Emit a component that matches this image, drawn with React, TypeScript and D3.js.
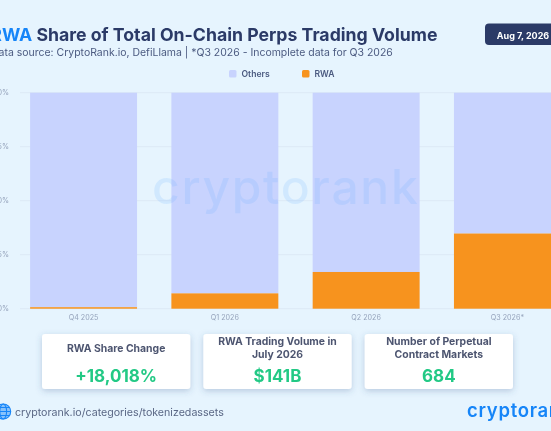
import * as d3 from "d3";

const categories = ["Q4 2025", "Q1 2026", "Q2 2026", "Q3 2026*"];
const rwaShare = [0.7, 7.1, 17, 34.8];
const othersShare = [99.3, 92.9, 83, 65.2];
const yTicks = [0, 25, 50, 75, 100];
const legendItems = ["Others", "RWA"];
const cardTitles = [
  ["RWA Share Change"],
  ["RWA Trading Volume in", "July 2026"],
  ["Number of Perpetual", "Contract Markets"],
];
const cardValues = ["+18,018%", "$141B", "684"];

const WIDTH = 551;
const HEIGHT = 431;
const OTHERS_COLOR = "#c8d3fe";
const RWA_COLOR = "#f7931e";
const NAVY = "#2b3a67";
const FONT = "Inter, 'Noto Sans', sans-serif";

const x = d3
  .scaleBand<string>()
  .domain(categories)
  .range([13, 578])
  .paddingInner(0.243)
  .paddingOuter(0.121);
const y = d3.scaleLinear().domain([0, 100]).range([308.7, 92.7]);

const stacked = d3
  .stack<string>()
  .keys(legendItems)
  .value((cat, key) => {
    const i = categories.indexOf(cat);
    return key === "Others" ? othersShare[i] : rwaShare[i];
  })
  .order(d3.stackOrderReverse)(categories);

const colorOf = d3
  .scaleOrdinal<string>()
  .domain(legendItems)
  .range([OTHERS_COLOR, RWA_COLOR]);

// x positions of the three stat cards
const cardX = d3.scaleBand<number>().domain([0, 1, 2]).range([42, 513]).paddingInner(0.081);

export default function App() {
  return (
    <svg
      width={WIDTH}
      height={HEIGHT}
      viewBox={`0 0 ${WIDTH} ${HEIGHT}`}
      style={{ position: "fixed", left: 0, top: 0, fontFamily: FONT, filter: "blur(0.4px)" }}
    >
      <defs>
        <filter id="cardShadow" x="-10%" y="-20%" width="120%" height="150%">
          <feDropShadow dx="0" dy="2" stdDeviation="3" floodColor="#3c5a8c" floodOpacity="0.28" />
        </filter>
      </defs>
      <rect width={WIDTH} height={HEIGHT} fill="#e6f4fe" />

      <text x={-9.7} y={40.5} fontSize={17.7} fontWeight={700} fill={NAVY}>
        <tspan fill="#1685f8">RWA</tspan> Share of Total On-Chain Perps Trading Volume
      </text>
      <text x={-9} y={55.5} fontSize={10.47} fill="#4b5a80">
        Data source: CryptoRank.io, DefiLlama | *Q3 2026 - Incomplete data for Q3 2026
      </text>

      <rect x={485} y={23.5} width={90} height={21.5} rx={4} fill={NAVY} />
      <text x={523} y={38.5} textAnchor="middle" fontSize={9} fontWeight={700} fill="#ffffff">
        Aug 7, 2026
      </text>

      {legendItems.map((name, i) => (
        <g key={name} transform={`translate(${i === 0 ? 229 : 302},70)`}>
          <rect width={7.5} height={7.5} rx={1.5} fill={colorOf(name)} />
          <text x={12.5} y={7.2} fontSize={8.6} fontWeight={600} fill="#4b5a80">
            {name}
          </text>
        </g>
      ))}

      {yTicks.map((t) => (
        <g key={t}>
          <line x1={20} x2={WIDTH} y1={y(t)} y2={y(t)} stroke="#d9e6f2" strokeWidth={0.8} />
          <text x={9} y={y(t) + 2.6} textAnchor="end" fontSize={7.2} fill="#95a3bb">
            {t}%
          </text>
        </g>
      ))}

      {stacked.map((layer) => (
        <g key={layer.key} fill={colorOf(layer.key)}>
          {layer.map((d) => (
            <rect
              key={d.data}
              x={x(d.data)}
              width={x.bandwidth()}
              y={y(d[1])}
              height={y(d[0]) - y(d[1])}
            />
          ))}
        </g>
      ))}

      {categories.map((c) => (
        <text
          key={c}
          x={(x(c) ?? 0) + x.bandwidth() / 2}
          y={320}
          textAnchor="middle"
          fontSize={7.2}
          fill="#95a3bb"
        >
          {c}
        </text>
      ))}

      {/* watermark */}
      <text
        x={152}
        y={204}
        fontSize={48}
        fontWeight={500}
        letterSpacing={1.7}
        fill="#5ba8ff"
        opacity={0.15}
      >
        cryptorank
      </text>

      {cardValues.map((v, i) => {
        const cx = (cardX(i) ?? 0) + cardX.bandwidth() / 2;
        const lines = cardTitles[i];
        return (
          <g key={v}>
            <rect
              x={cardX(i)}
              y={334}
              width={cardX.bandwidth()}
              height={55}
              rx={3}
              fill="#ffffff"
              filter="url(#cardShadow)"
            />
            {lines.map((l, j) => (
              <text
                key={l}
                x={cx}
                y={(lines.length === 1 ? 351.7 : 345.4) + j * 12.8}
                textAnchor="middle"
                fontSize={10.4}
                fontWeight={700}
                fill="#4d5570"
              >
                {l}
              </text>
            ))}
            <text
              x={cx}
              y={382.3}
              textAnchor="middle"
              fontSize={17}
              fontWeight={700}
              fill="#22c985"
            >
              {v}
            </text>
          </g>
        );
      })}

      {/* source link */}
      <g fill="none" stroke="#1685f8" strokeWidth={1.1}>
        <circle cx={3.2} cy={411.5} r={7.5} fill="#1685f8" fillOpacity={0.45} />
        <ellipse cx={3.2} cy={411.5} rx={3.4} ry={7.5} />
        <path d="M-4.3 411.5H10.7M-3.2 407.5H9.6M-3.2 415.5H9.6" />
      </g>
      <text x={15} y={416.2} fontSize={10.65} fill="#5a6785">
        cryptorank.io/categories/tokenizedassets
      </text>

      <text x={467} y={416.6} fontSize={18.5} fontWeight={600} fill="#1685f8" letterSpacing={0.7}>
        cryptorank
      </text>
    </svg>
  );
}
